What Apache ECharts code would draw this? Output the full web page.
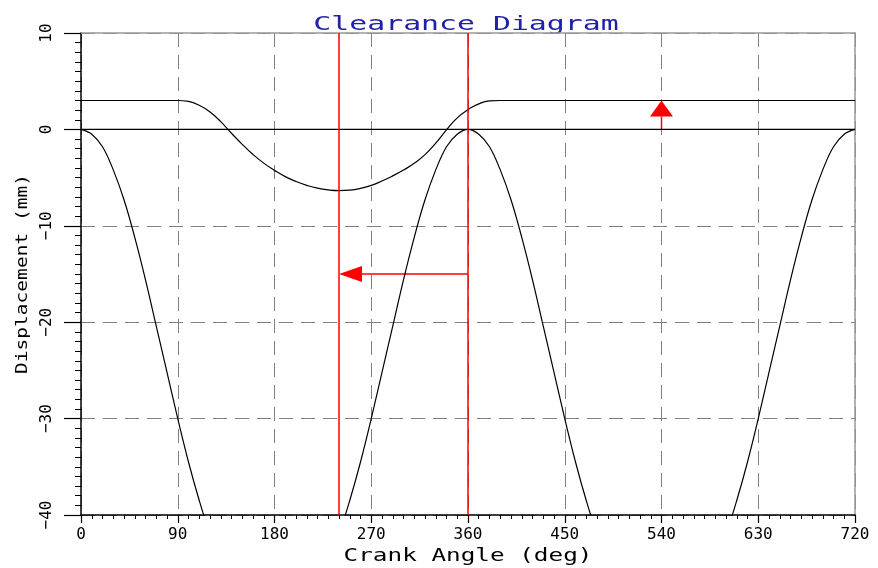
<!DOCTYPE html>
<html>
<head>
<meta charset="utf-8">
<title>Clearance Diagram</title>
<script src="https://cdn.jsdelivr.net/npm/echarts@6/dist/echarts.min.js"></script>
<style>
  html, body { margin: 0; padding: 0; background: #fff; }
  #chart { width: 878px; height: 568px; }
</style>
</head>
<body>
<div id="chart"></div>
<script>
// crank angle samples (deg)
var crankAngle = [
  0, 10, 20, 30, 40, 50, 60, 70, 80, 90,
  100, 110, 120, 130, 140, 150, 160, 170, 180,
  190, 200, 210, 220, 230, 240, 250, 260, 270,
  280, 290, 300, 310, 320, 330, 340, 350, 360,
  370, 380, 390, 400, 410, 420, 430, 440, 450,
  460, 470, 480, 490, 500, 510, 520, 530, 540,
  550, 560, 570, 580, 590, 600, 610, 620, 630,
  640, 650, 660, 670, 680, 690, 700, 710, 720
];

// piston displacement (mm)
var pistonDisp = [
  0, -0.5, -1.8, -4.2, -7.3, -11.2, -15.6, -20.4, -25.2, -30.0,
  -34.5, -38.5, -42.0, -44.8, -46.9, -48.4, -49.3, -49.8, -50.0,
  -49.8, -49.3, -48.4, -46.9, -44.8, -42.0, -38.5, -34.5, -30.0,
  -25.2, -20.4, -15.6, -11.2, -7.3, -4.2, -1.8, -0.5, 0,
  -0.5, -1.8, -4.2, -7.3, -11.2, -15.6, -20.4, -25.2, -30.0,
  -34.5, -38.5, -42.0, -44.8, -46.9, -48.4, -49.3, -49.8, -50.0,
  -49.8, -49.3, -48.4, -46.9, -44.8, -42.0, -38.5, -34.5, -30.0,
  -25.2, -20.4, -15.6, -11.2, -7.3, -4.2, -1.8, -0.5, 0
];

// valve displacement (mm) incl. clearance offset
var valveDisp = [
  3, 3, 3, 3, 3, 3, 3, 3, 3, 3,
  2.9, 2.5, 1.8, 0.8, -0.4, -1.55, -2.6, -3.5, -4.25,
  -4.9, -5.4, -5.8, -6.1, -6.28, -6.35, -6.3, -6.12, -5.8,
  -5.35, -4.82, -4.22, -3.52, -2.62, -1.42, -0.05, 1.2, 2.05,
  2.65, 2.95, 3, 3, 3, 3, 3, 3, 3,
  3, 3, 3, 3, 3, 3, 3, 3, 3,
  3, 3, 3, 3, 3, 3, 3, 3, 3,
  3, 3, 3, 3, 3, 3, 3, 3, 3
];

// zero reference line
var refAngle = [0, 720];
var refDisp = [0, 0];

// red marker angles
var markerAngles = [240, 360];

// arrows: [fromAngle, fromDisp, toAngle, toDisp]
var arrowData = [
  [360, -15, 240, -15],
  [540, 0, 540, 3]
];

function pairs(xs, ys) {
  var out = [];
  for (var i = 0; i < xs.length; i++) out.push([xs[i], ys[i]]);
  return out;
}

var FONT = '"DejaVu Sans Mono", "Liberation Mono", monospace';
var GRID_DASH = { color: '#808080', width: 1, type: [14, 8] };
var headSize = [[23, 16], [16, 23]];   // [length, width] per arrow

function fmtMinus(v) { return String(v).replace('-', '\u2212'); }

var chart = echarts.init(document.getElementById('chart'));

var option = {
  animation: false,
  backgroundColor: '#ffffff',
  grid: { left: 81, right: 23, top: 33, bottom: 53 },
  xAxis: [
    {
      type: 'value', min: 0, max: 720, interval: 90,
      position: 'bottom',
      axisLine: { show: true, onZero: false, lineStyle: { color: '#000', width: 1.5 } },
      axisTick: { show: true, length: 8, lineStyle: { color: '#000', width: 1.2 } },
      minorTick: { show: true, splitNumber: 9, length: 4, lineStyle: { color: '#000', width: 1 } },
      axisLabel: { color: '#000', fontFamily: FONT, fontSize: 16, margin: 12, showMinLabel: true, showMaxLabel: true },
      splitLine: { show: true, lineStyle: GRID_DASH }
    },
    {
      type: 'value', min: 0, max: 720, position: 'top',
      axisLine: { show: true, onZero: false, lineStyle: { color: '#999', width: 1.5 } },
      axisTick: { show: false }, axisLabel: { show: false }, splitLine: { show: false }
    }
  ],
  yAxis: [
    {
      type: 'value', min: -40, max: 10, interval: 10,
      position: 'left',
      axisLine: { show: true, onZero: false, lineStyle: { color: '#000', width: 1.5 } },
      axisTick: { show: true, length: 17, lineStyle: { color: '#000', width: 1.2 } },
      minorTick: { show: true, splitNumber: 10, length: 6, lineStyle: { color: '#000', width: 1 } },
      axisLabel: { color: '#000', fontFamily: FONT, fontSize: 16, rotate: 90, margin: 26, formatter: fmtMinus },
      splitLine: { show: true, lineStyle: GRID_DASH }
    },
    {
      type: 'value', min: -40, max: 10, position: 'right',
      axisLine: { show: true, onZero: false, lineStyle: { color: '#999', width: 1.5 } },
      axisTick: { show: false }, axisLabel: { show: false }, splitLine: { show: false }
    }
  ],
  graphic: [
    {
      type: 'text', x: 466, y: 25, scaleX: 1.57,
      style: { text: 'Clearance Diagram', font: '19px ' + FONT, fill: '#2020aa', textAlign: 'center', textVerticalAlign: 'middle' }
    },
    {
      type: 'text', x: 468, y: 557, scaleX: 1.43,
      style: { text: 'Crank Angle (deg)', font: '17px ' + FONT, fill: '#000', textAlign: 'center', textVerticalAlign: 'middle' }
    },
    {
      type: 'text', x: 23, y: 274, rotation: Math.PI / 2, scaleX: 1.22,
      style: { text: 'Displacement (mm)', font: '16px ' + FONT, fill: '#000', textAlign: 'center', textVerticalAlign: 'middle' }
    }
  ],
  series: [
    {
      name: 'reference', type: 'line', data: pairs(refAngle, refDisp),
      symbol: 'none', lineStyle: { color: '#000', width: 1.3 },
      markLine: {
        silent: true, symbol: 'none', label: { show: false },
        lineStyle: { color: '#ff0000', width: 1.5, type: 'solid' },
        data: markerAngles.map(function (a) { return { xAxis: a }; })
      }
    },
    {
      name: 'piston', type: 'line', data: pairs(crankAngle, pistonDisp),
      symbol: 'none', smooth: 0.4, lineStyle: { color: '#000', width: 1.2 }
    },
    {
      name: 'valve', type: 'line', data: pairs(crankAngle, valveDisp),
      symbol: 'none', smooth: 0.5, lineStyle: { color: '#000', width: 1.2 }
    },
    {
      name: 'arrows', type: 'custom', data: arrowData,
      encode: { x: [0, 2], y: [1, 3] },
      renderItem: function (params, api) {
        var a = api.coord([api.value(0), api.value(1)]);
        var b = api.coord([api.value(2), api.value(3)]);
        var dx = b[0] - a[0], dy = b[1] - a[1];
        var len = Math.sqrt(dx * dx + dy * dy);
        var ux = dx / len, uy = dy / len;
        var hs = headSize[params.dataIndex];
        var bx = b[0] - ux * hs[0], by = b[1] - uy * hs[0];
        var nx = -uy * hs[1] / 2, ny = ux * hs[1] / 2;
        return {
          type: 'group',
          children: [
            { type: 'line', shape: { x1: a[0], y1: a[1], x2: bx, y2: by }, style: { stroke: '#ff0000', lineWidth: 1.5 } },
            { type: 'polygon', shape: { points: [[b[0], b[1]], [bx + nx, by + ny], [bx - nx, by - ny]] }, style: { fill: '#ff0000' } }
          ]
        };
      }
    }
  ]
};

chart.setOption(option);
</script>
</body>
</html>
